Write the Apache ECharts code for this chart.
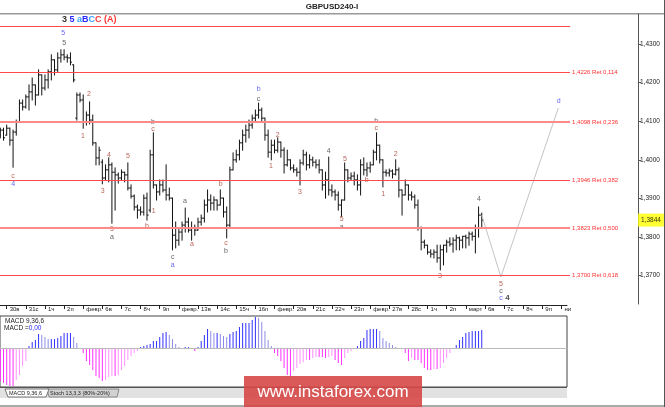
<!DOCTYPE html>
<html><head><meta charset="utf-8">
<script src="https://cdn.jsdelivr.net/npm/echarts@6/dist/echarts.min.js"></script>
<style>html,body{margin:0;padding:0;background:#fff}#c{width:665px;height:407px}</style>
</head><body><div id="c"></div>
<script>
// ---- data (bar index 0 = first 4H bar of 30 Jan; first two bars are -2, -1) ----
const firstIndex = -2;
const dayLabels = ["30в","31с","1ч","2п","февр.","6в","7с","8ч","9п","февр.","13в","14с","15ч","16п","февр.","20в","21с","22ч","23п","февр.","27в","28с","1ч","2п","март","6в","7с","8ч","9п","ни"];
const dayTicks = [0,6,12,18,24,30,36,42,48,54,60,66,72,78,84,90,96,102,108,114,120,126,132,138,144,150,156,162,168,174];
const openP = [
1.4064,1.4077,1.4064,1.4082,1.4051,1.4072,1.4098,1.4147,1.4137,1.4163,
1.4176,1.4194,1.4168,1.4220,1.4186,1.4207,1.4228,1.4259,1.4233,1.4264,
1.4272,1.4266,1.4264,1.4246,1.4108,1.4168,1.4155,1.4098,1.4116,1.4103,
1.4044,1.4005,1.3994,1.3953,1.3974,1.3987,1.3968,1.3961,1.3953,1.3968,
1.3961,1.3927,1.3906,1.3878,1.3870,1.3865,1.3901,1.3870,1.4013,1.3935,
1.3917,1.3935,1.3922,1.3909,1.3901,1.3805,1.3792,1.3813,1.3831,1.3839,
1.3818,1.3823,1.3818,1.3839,1.3849,1.3883,1.3896,1.3888,1.3896,1.3883,
1.3901,1.3865,1.3831,1.3974,1.4000,1.4013,1.4044,1.4064,1.4077,1.4090,
1.4108,1.4116,1.4129,1.4108,1.4064,1.4020,1.4038,1.4025,1.4046,1.4025,
1.3987,1.4000,1.3979,1.3974,1.3968,1.3992,1.4013,1.3987,1.4000,1.3994,
1.3987,1.3974,1.3935,1.3948,1.3922,1.3917,1.3909,1.3883,1.3896,1.3974,
1.3953,1.3958,1.3948,1.3935,1.3987,1.3974,1.3979,1.3987,1.4020,1.4038,
1.4000,1.3968,1.3966,1.3971,1.3963,1.3974,1.3922,1.3909,1.3935,1.3909,
1.3904,1.3883,1.3823,1.3787,1.3779,1.3761,1.3756,1.3761,1.3746,1.3767,
1.3779,1.3787,1.3782,1.3792,1.3798,1.3792,1.3802,1.3798,1.3808,1.3802,
1.3823,1.3857];
const highP = [
1.4082,1.4082,1.4090,1.4082,1.4077,1.4103,1.4155,1.4155,1.4168,1.4194,
1.4212,1.4194,1.4233,1.4220,1.4220,1.4233,1.4272,1.4259,1.4277,1.4285,
1.4285,1.4272,1.4277,1.4246,1.4173,1.4173,1.4168,1.4124,1.4150,1.4116,
1.4044,1.4033,1.4000,1.3987,1.4005,1.3992,1.3979,1.3966,1.3974,1.3968,
1.3992,1.3935,1.3909,1.3883,1.3878,1.3909,1.3914,1.4025,1.4070,1.3935,
1.3948,1.3948,1.3987,1.3927,1.3901,1.3839,1.3823,1.3839,1.3875,1.3849,
1.3839,1.3831,1.3849,1.3857,1.3896,1.3922,1.3909,1.3904,1.3896,1.3922,
1.3901,1.3878,1.3981,1.4018,1.4025,1.4051,1.4077,1.4090,1.4103,1.4116,
1.4129,1.4147,1.4134,1.4108,1.4077,1.4051,1.4051,1.4057,1.4046,1.4031,
1.4025,1.4000,1.3987,1.3979,1.4000,1.4025,1.4020,1.4013,1.4007,1.4000,
1.4000,1.3974,1.3968,1.4007,1.3935,1.3922,1.3917,1.3896,1.3992,1.3974,
1.3966,1.3968,1.3961,1.4000,1.4005,1.3992,1.3994,1.4025,1.4070,1.4038,
1.4000,1.3974,1.3976,1.3974,1.4000,1.3979,1.3922,1.3948,1.3935,1.3917,
1.3909,1.3896,1.3826,1.3792,1.3779,1.3767,1.3767,1.3779,1.3779,1.3779,
1.3792,1.3798,1.3798,1.3805,1.3800,1.3802,1.3805,1.3813,1.3813,1.3831,
1.3878,1.3862];
const lowP = [
1.4057,1.4051,1.4064,1.4038,1.3981,1.4064,1.4098,1.4129,1.4134,1.4129,
1.4155,1.4142,1.4168,1.4168,1.4181,1.4186,1.4207,1.4220,1.4228,1.4253,
1.4259,1.4253,1.4246,1.4202,1.4103,1.4150,1.4082,1.4090,1.4093,1.4038,
1.3987,1.3987,1.3938,1.3948,1.3943,1.3836,1.3870,1.3940,1.3948,1.3943,
1.3922,1.3901,1.3870,1.3849,1.3857,1.3857,1.3844,1.3865,1.3927,1.3896,
1.3909,1.3917,1.3896,1.3896,1.3767,1.3772,1.3779,1.3792,1.3813,1.3813,
1.3792,1.3805,1.3818,1.3831,1.3839,1.3865,1.3870,1.3870,1.3870,1.3883,
1.3852,1.3798,1.3823,1.3974,1.3994,1.4000,1.4025,1.4046,1.4057,1.4082,
1.4098,1.4108,1.4098,1.4051,1.4007,1.4000,1.4018,1.4020,1.4007,1.3966,
1.3984,1.3974,1.3968,1.3958,1.3935,1.3987,1.3974,1.3979,1.3984,1.3979,
1.3966,1.3922,1.3901,1.3909,1.3906,1.3896,1.3870,1.3854,1.3896,1.3943,
1.3948,1.3935,1.3922,1.3909,1.3961,1.3958,1.3968,1.3987,1.4000,1.3992,
1.3930,1.3958,1.3958,1.3953,1.3961,1.3904,1.3857,1.3909,1.3896,1.3896,
1.3875,1.3818,1.3767,1.3772,1.3756,1.3748,1.3746,1.3735,1.3715,1.3728,
1.3761,1.3777,1.3761,1.3767,1.3767,1.3772,1.3772,1.3779,1.3792,1.3759,
1.3800,1.3823];
const closeP = [
1.4077,1.4057,1.4082,1.4051,1.4072,1.4098,1.4147,1.4137,1.4163,1.4176,
1.4194,1.4168,1.4220,1.4186,1.4207,1.4228,1.4259,1.4233,1.4264,1.4272,
1.4266,1.4264,1.4253,1.4207,1.4168,1.4155,1.4098,1.4116,1.4103,1.4044,
1.4005,1.4025,1.3953,1.3974,1.3987,1.3968,1.3961,1.3953,1.3968,1.3961,
1.3927,1.3906,1.3878,1.3870,1.3865,1.3901,1.3857,1.4013,1.3935,1.3917,
1.3935,1.3922,1.3909,1.3901,1.3805,1.3792,1.3813,1.3831,1.3839,1.3818,
1.3823,1.3818,1.3839,1.3849,1.3883,1.3896,1.3888,1.3896,1.3883,1.3901,
1.3865,1.3831,1.3974,1.4000,1.4013,1.4044,1.4064,1.4077,1.4090,1.4108,
1.4116,1.4129,1.4108,1.4064,1.4020,1.4038,1.4025,1.4046,1.4025,1.3987,
1.4000,1.3979,1.3974,1.3968,1.3992,1.4013,1.3987,1.4000,1.3994,1.3987,
1.3974,1.3935,1.3948,1.3922,1.3917,1.3909,1.3883,1.3896,1.3974,1.3953,
1.3958,1.3948,1.3935,1.3987,1.3974,1.3979,1.3987,1.4020,1.4038,1.4000,
1.3968,1.3966,1.3971,1.3963,1.3974,1.3922,1.3909,1.3935,1.3909,1.3904,
1.3883,1.3823,1.3787,1.3779,1.3761,1.3756,1.3761,1.3746,1.3767,1.3779,
1.3787,1.3782,1.3792,1.3798,1.3792,1.3802,1.3798,1.3808,1.3802,1.3823,
1.3857,1.3844];
const macdHist = [
-0.0033,-0.0035,-0.0037,-0.0038,-0.0038,-0.0032,-0.0027,-0.0018,-0.0013,0.0002,
0.0006,0.0008,0.0014,0.0013,0.0011,0.0009,0.0009,0.0009,0.0010,0.0012,
0.0015,0.0015,0.0015,0.0011,0.0005,-0.0001,-0.0005,-0.0013,-0.0017,-0.0022,
-0.0028,-0.0030,-0.0033,-0.0032,-0.0029,-0.0028,-0.0028,-0.0027,-0.0022,-0.0018,
-0.0012,-0.0008,-0.0005,-0.0003,0.0001,0.0002,0.0003,0.0004,0.0007,0.0007,
0.0011,0.0015,0.0016,0.0013,0.0009,0.0004,0.0001,0.0000,0.0001,0.0001,
-0.0001,-0.0003,0.0001,0.0007,0.0013,0.0019,0.0017,0.0015,0.0015,0.0014,
0.0012,0.0011,0.0014,0.0016,0.0017,0.0021,0.0025,0.0025,0.0025,0.0028,
0.0031,0.0030,0.0026,0.0017,0.0008,0.0002,-0.0005,-0.0008,-0.0013,-0.0020,
-0.0027,-0.0028,-0.0023,-0.0020,-0.0016,-0.0014,-0.0012,-0.0012,-0.0010,-0.0009,
-0.0009,-0.0009,-0.0010,-0.0009,-0.0008,-0.0012,-0.0015,-0.0017,-0.0010,-0.0005,
-0.0003,0.0000,0.0002,0.0007,0.0010,0.0018,0.0019,0.0019,0.0019,0.0017,
0.0010,0.0007,0.0005,0.0003,0.0001,0.0000,-0.0001,-0.0005,-0.0013,-0.0010,
-0.0012,-0.0012,-0.0015,-0.0020,-0.0022,-0.0022,-0.0021,-0.0021,-0.0020,-0.0015,
-0.0010,-0.0005,-0.0001,0.0003,0.0008,0.0011,0.0015,0.0016,0.0017,0.0017,
0.0017,0.0018];
const retLevels = [1.4347,1.4226,1.4098,1.3946,1.3823,1.3700];
const retTexts = ["","1,4226 Ret 0,114","1,4098 Ret 0,236","1,3946 Ret 0,382","1,3823 Ret 0,500","1,3700 Ret 0,618"];
const priceTicks = [1.37,1.38,1.39,1.40,1.41,1.42,1.43];
const lastPrice = 1.3844;
const projection = [[149,1.3857],[155,1.3697],[173,1.4134]];
const waveLabels = [
[17.7,1.4328,'5','b'],[18.0,1.4303,'5','k'],[25.8,1.4171,'2','r'],[23.9,1.4062,'1','r'],
[2.0,1.3959,'c','r'],[2.0,1.3937,'4','b'],[32.1,1.4013,'4','r'],[38.0,1.4011,'5','r'],
[30.1,1.3920,'3','r'],[33.0,1.3821,'5','r'],[33.0,1.3800,'a','k'],[44.0,1.3829,'b','r'],
[46.1,1.3868,'1','r'],[45.9,1.4098,'b','k'],[45.9,1.4080,'c','r'],[52.1,1.3749,'c','k'],
[52.1,1.3727,'a','b'],[55.9,1.3892,'a','k'],[58.1,1.3782,'a','r'],[67.1,1.3937,'b','r'],
[68.8,1.3784,'c','r'],[68.8,1.3765,'b','k'],[79.0,1.4183,'b','b'],[79.0,1.4158,'c','k'],
[85.0,1.4064,'2','r'],[82.9,1.3985,'1','r'],[92.0,1.3917,'3','r'],[101.0,1.4023,'4','k'],
[106.1,1.4003,'5','r'],[105.1,1.3846,'5','r'],[105.1,1.3827,'a','k'],[112.9,1.3948,'b','r'],
[115.9,1.4101,'b','k'],[115.9,1.4082,'c','r'],[118.1,1.3912,'1','r'],[122.0,1.4014,'2','r'],
[135.9,1.3700,'3','r'],[148.1,1.3899,'4','k'],[155.0,1.3678,'5','r'],[155.0,1.3661,'c','k'],
[155.0,1.3641,'c','b'],[157.1,1.3644,'4','K'],[173.1,1.4153,'d','b']];

// ---- layout ----
const PX_PER_BAR = 19.13/6;
const X_MIN = -2.1;
const MAIN_W = 638, MACD_W = 567;
const X_MAX = X_MIN + MAIN_W/PX_PER_BAR;
const FONT = 'Liberation Sans, Arial, sans-serif';
const labelColors = {r:'#a83a2c', k:'#3a3a3a', K:'#222', b:'#3c3cf0'};

const bars = openP.map((o,k)=>[firstIndex+k, o, highP[k], lowP[k], closeP[k]]);
const macdData = macdHist.map((v,k)=>[firstIndex+k, v]);
const fmtPrice = v => v.toFixed(4).replace('.', ',');

const retLines = retLevels.map((lv,k)=>[
  {coord:[X_MIN, lv], lineStyle:{color:(k===2||k===4)?'#ff8a8a':'#ff4a4a', width:(k===2||k===4)?2:1.2, type:'solid'},
   label:{show:!!retTexts[k], position:'end', distance:2, formatter:retTexts[k], color:'#ff3030', fontSize:6, fontFamily:FONT}},
  {coord:[176.7, lv]}
]);

const chart = echarts.init(document.getElementById('c'), null, {renderer:'canvas'});
const option = {
  animation:false,
  backgroundColor:'#ffffff',
  grid:[
    {left:0, top:14, width:MAIN_W, height:290, show:false},
    {left:0, top:316, width:MACD_W, height:71, show:true, borderColor:'#444', borderWidth:1, backgroundColor:'transparent'}
  ],
  xAxis:[
    {type:'value', gridIndex:0, min:X_MIN, max:X_MAX, show:false},
    {type:'value', gridIndex:1, min:X_MIN, max:X_MIN+MACD_W/PX_PER_BAR, position:'top', offset:11,
     axisLine:{show:true, onZero:false, lineStyle:{color:'#222', width:1}},
     axisTick:{show:true, inside:true, length:4, customValues:dayTicks, lineStyle:{color:'#222'}},
     axisLabel:{show:true, inside:true, customValues:dayTicks, margin:1, fontSize:6, fontFamily:FONT, color:'#222', align:'left', padding:[0,0,0,3],
       formatter:v=>dayLabels[Math.round(v/6)] || ''},
     splitLine:{show:false}}
  ],
  yAxis:[
    {type:'value', gridIndex:0, position:'right', min:1.36267, max:1.43777,
     axisLine:{show:true, onZero:false, lineStyle:{color:'#555', width:1}},
     axisTick:{show:true, length:3, customValues:priceTicks, lineStyle:{color:'#555'}},
     axisLabel:{show:true, customValues:priceTicks, margin:2, fontSize:6.5, fontFamily:FONT, color:'#222', formatter:fmtPrice},
     splitLine:{show:false}},
    {type:'value', gridIndex:1, min:-0.0039, max:0.0032, show:false}
  ],
  series:[
    {type:'custom', name:'GBPUSD', xAxisIndex:0, yAxisIndex:0, data:bars, clip:true,
     encode:{x:0, y:[1,2,3,4]},
     renderItem:function(params, api){
       const x = api.value(0);
       const o = api.coord([x, api.value(1)]);
       const h = api.coord([x, api.value(2)]);
       const l = api.coord([x, api.value(3)]);
       const c = api.coord([x, api.value(4)]);
       const w = 1.6;
       const st = {stroke:'#111', lineWidth:1};
       return {type:'group', children:[
         {type:'line', shape:{x1:h[0], y1:h[1]-0.5, x2:l[0], y2:l[1]+0.5}, style:st},
         {type:'line', shape:{x1:o[0]-w, y1:o[1], x2:o[0], y2:o[1]}, style:st},
         {type:'line', shape:{x1:c[0], y1:c[1], x2:c[0]+w, y2:c[1]}, style:st}
       ]};
     },
     markLine:{silent:true, symbol:'none', animation:false, data:retLines}},
    {type:'scatter', name:'lastPrice', xAxisIndex:0, yAxisIndex:0, symbolSize:0, clip:false, z:10,
     data:[[X_MAX, lastPrice]],
     label:{show:true, position:'right', distance:0, formatter:fmtPrice(lastPrice), backgroundColor:'#ffff00', color:'#000',
       fontSize:6.5, fontFamily:FONT, padding:[3,3,3,3]}},
    {type:'line', name:'projection', xAxisIndex:0, yAxisIndex:0, data:projection, symbol:'none',
     lineStyle:{color:'#c4c4c4', width:1}},
    {type:'scatter', name:'waves', xAxisIndex:0, yAxisIndex:0, symbolSize:0,
     data: waveLabels.map(w=>({value:[w[0], w[1]], label:{show:true, position:'inside', formatter:w[2],
        color:labelColors[w[3]], fontSize: w[3]==='K'?8:7, fontWeight: w[3]==='K'?'bold':'normal', fontFamily:FONT}}))},
    {type:'bar', name:'MACD', xAxisIndex:1, yAxisIndex:1, data:macdData, barWidth:1,
     itemStyle:{color:function(p){
       const k = p.dataIndex, v = macdHist[k], prev = k>0 ? macdHist[k-1] : v;
       if (v >= 0) return v >= prev ? '#3030ff' : '#8c8ce6';
       return v <= prev ? '#ff30ff' : '#ff90ff';
     }},
     markLine:{silent:true, symbol:'none', data:[{yAxis:0}], lineStyle:{color:'#bbbbbb', width:1, type:'solid'}, label:{show:false}}}
  ],
  graphic:[
    {type:'rect', shape:{x:0, y:13, width:665, height:1.5}, style:{fill:'#999'}},
    {type:'text', x:332, y:7, style:{text:'GBPUSD240-I', font:'bold 8px '+FONT, fill:'#222', align:'center', verticalAlign:'middle'}},
    {type:'text', x:62, y:20, style:{text:'{k|3}{b| 5} {lb|a}{b|B}{lb|C}{r|C} {r|(A)}', font:'bold 9px '+FONT, verticalAlign:'middle',
      rich:{k:{fill:'#333', font:'bold 9px '+FONT}, b:{fill:'#2a2aff', font:'bold 9px '+FONT}, lb:{fill:'#3aa0ff', font:'bold 9px '+FONT}, r:{fill:'#ff3333', font:'bold 9px '+FONT}}}},
    {type:'text', x:5, y:321, style:{text:'MACD 9,36,6', font:'6.5px '+FONT, fill:'#222', verticalAlign:'middle'}},
    {type:'text', x:4, y:328, style:{text:'MACD ={v|0,00}', font:'6.5px '+FONT, fill:'#222', verticalAlign:'middle', rich:{v:{fill:'#2a2aff', font:'6.5px '+FONT}}}},
    {type:'rect', shape:{x:0, y:388, width:MACD_W, height:10}, style:{fill:'#e2e2e2'}},
    {type:'line', shape:{x1:0, y1:387.5, x2:MACD_W, y2:387.5}, style:{stroke:'#555', lineWidth:1}},
    {type:'polygon', shape:{points:[[47,389],[49,397],[117,397],[119,389]]}, style:{fill:'#d2d2d2', stroke:'#777', lineWidth:0.8}},
    {type:'text', x:50, y:393, style:{text:'Stoch 13,3,3 (80%-20%)', font:'5.5px '+FONT, fill:'#222', verticalAlign:'middle'}},
    {type:'polygon', shape:{points:[[5,389],[8,397],[46,397],[49,389]]}, style:{fill:'#ffffff', stroke:'#555', lineWidth:0.8}},
    {type:'text', x:9, y:393, style:{text:'MACD 9,36,6', font:'5.5px '+FONT, fill:'#222', verticalAlign:'middle'}},
    {type:'line', shape:{x1:0, y1:406, x2:665, y2:406}, style:{stroke:'#555', lineWidth:1}},
    {type:'line', shape:{x1:664.5, y1:0, x2:664.5, y2:407}, style:{stroke:'#555', lineWidth:1}},
    {type:'rect', shape:{x:244, y:376, width:178, height:31}, style:{fill:'rgba(214,72,72,0.9)'}},
    {type:'text', x:333, y:392, style:{text:'www.instaforex.com', font:'17px '+FONT, fill:'#ffffff', align:'center', verticalAlign:'middle'}}
  ]
};
chart.setOption(option);
</script></body></html>
